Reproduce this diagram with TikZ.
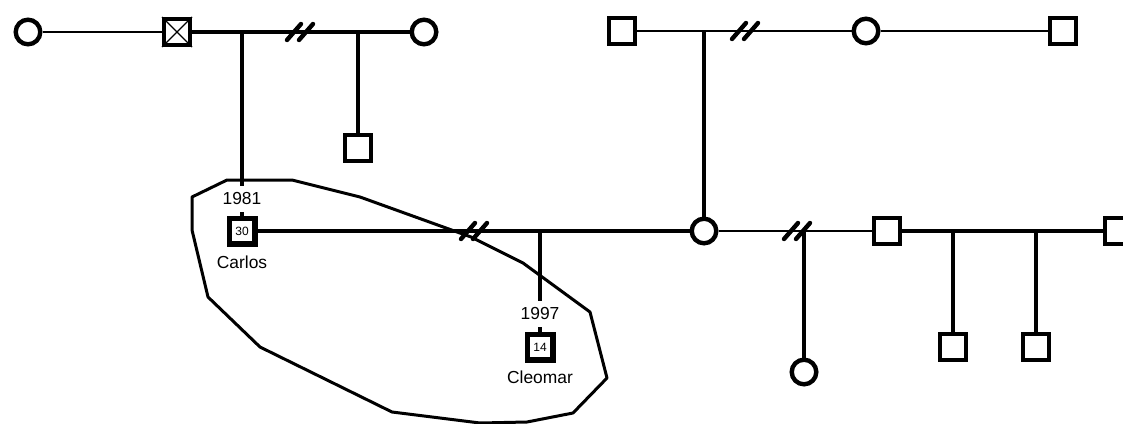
\documentclass[tikz,border=0pt]{standalone}
\usepackage{fontspec}
\setmainfont{Liberation Sans}
\begin{document}
\begin{tikzpicture}[x=0.5pt, y=-0.5pt,
	male/.style={draw, line width=2.2pt, minimum size=12.8pt, inner sep=0pt},
	female/.style={draw, circle, line width=2.2pt, minimum size=12.3pt, inner sep=0pt},
	ego/.style={draw, line width=2.7pt, minimum size=12.8pt, inner sep=0pt, font=\fontsize{6}{7}\selectfont},
	year/.style={fill=white, inner xsep=1pt, inner ysep=3.2pt, font=\fontsize{8.7}{10}\selectfont},
	lbl/.style={inner sep=1pt, font=\fontsize{8.7}{10}\selectfont},
	rel/.style={line width=1.7pt},
	desc/.style={line width=2.2pt},
	divmark/.pic={\draw[line width=2.2pt, line cap=round] (-13,8) -- (1,-8) (-1,8) -- (13,-8);}]
	\useasboundingbox (0,0) rectangle (1123,423);
	% household
	\draw[line width=1.5pt, line join=round] (192,197) -- (227,180) -- (292,180) -- (360,197) -- (471,237) -- (523,263) -- (590,312) -- (607,378) -- (573,413) -- (527,422) -- (480,423) -- (392,412) -- (260,347) -- (208,297) -- (192,230) -- cycle;
	% first generation
	\node[female] (g1) at (28,32) {};
	\node[male] (g2) at (177,32) {};
	\draw[line width=0.6pt] (g2.north west) -- (g2.south east) (g2.north east) -- (g2.south west);
	\node[female] (g3) at (424,32) {};
	\node[male] (u1) at (358,148) {};
	\node[male] (h1) at (622,31) {};
	\node[female] (h2) at (866,31) {};
	\node[male] (h3) at (1063,31) {};
	% second generation
	\node[ego] (carlos) at (242,231) {30};
	\node[female] (m) at (704,231) {};
	\node[male] (s1) at (887,231) {};
	\node[male] (s2) at (1118,231) {};
	\node[ego] (cleomar) at (540,347) {14};
	\node[female] (d1) at (804,372) {};
	\node[male] (c1) at (953,347) {};
	\node[male] (c2) at (1036,347) {};
	% unions
	\draw[line width=1.2pt] (g1) -- (g2);
	\draw[rel] (g2) -- (g3);
	\draw[line width=1.3pt] (h1) -- (h2);
	\draw[line width=1.2pt] (h2) -- (h3);
	\draw[rel] (carlos) -- (m);
	\draw[line width=1.3pt] (m) -- (s1);
	\draw[rel] (s1) -- (s2);
	\pic at (300,32) {divmark};
	\pic at (745,31) {divmark};
	\pic at (474,231) {divmark};
	\pic at (797,231) {divmark};
	% children
	\coordinate (f1) at (242,32);
	\coordinate (f2) at (358,32);
	\coordinate (f3) at (704,31);
	\coordinate (f4) at (540,231);
	\coordinate (f5) at (804,231);
	\coordinate (f6) at (953,231);
	\coordinate (f7) at (1036,231);
	\draw[desc] (f1) -- (carlos);
	\draw[desc] (f2) -- (u1);
	\draw[desc] (f3) -- (m);
	\draw[desc] (f4) -- (cleomar);
	\draw[desc] (f5) -- (d1);
	\draw[desc] (f6) -- (c1);
	\draw[desc] (f7) -- (c2);
	% labels
	\node[year] (y1) at (242,199) {1981};
	\node[lbl] (n1) at (242,262) {Carlos};
	\node[year] (y2) at (540,314) {1997};
	\node[lbl] (n2) at (540,377) {Cleomar};
\end{tikzpicture}
\end{document}
